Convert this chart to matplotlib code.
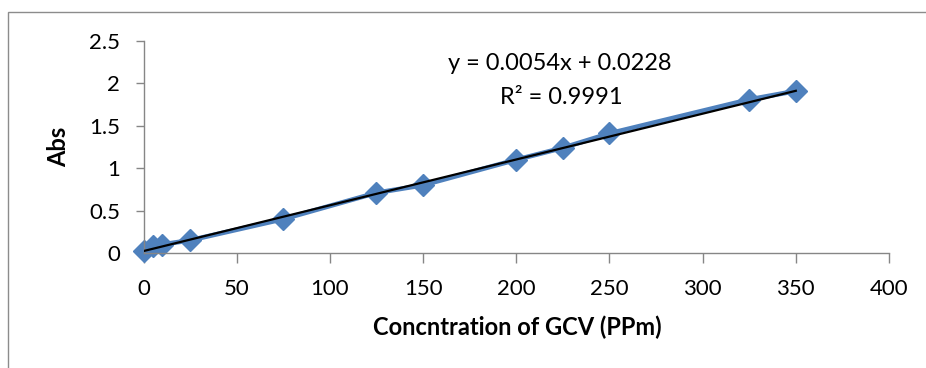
import matplotlib
matplotlib.use("Agg")
import matplotlib.pyplot as plt
from matplotlib.patches import Rectangle
import numpy as np

# Calibration data: concentration of GCV (ppm) vs absorbance
conc = [0, 5, 10, 25, 75, 125, 150, 200, 225, 250, 325, 350]
absorb = [0.02, 0.08, 0.10, 0.15, 0.40, 0.71, 0.80, 1.10, 1.24, 1.41, 1.81, 1.91]

slope = 0.0054
intercept = 0.0228
r2 = 0.9991

x_ticks = [0, 50, 100, 150, 200, 250, 300, 350, 400]
y_ticks = [0, 0.5, 1, 1.5, 2, 2.5]
y_tick_labels = ["0", "0.5", "1", "1.5", "2", "2.5"]

plt.rcParams["font.family"] = ["Lato", "DejaVu Sans"]

W, H = 926, 368
fig = plt.figure(figsize=(W / 100, H / 100), dpi=100)

# chart area frame
fig.patches.append(Rectangle((8 / W, -0.1), 1.2, 1 - 12 / H + 0.1,
                             transform=fig.transFigure, fill=False,
                             edgecolor="#8c8c8c", linewidth=1.0))

ax = fig.add_axes([143.5 / W, 1 - 253 / H, (889 - 143.5) / W, (253 - 41) / H])

ax.plot(conc, absorb, color="#4F81BD", linewidth=3.4, marker="D",
        markersize=11, markerfacecolor="#4F81BD", markeredgecolor="#4F81BD",
        zorder=2, clip_on=False)

fit_x = np.array([min(conc), max(conc)])
ax.plot(fit_x, slope * fit_x + intercept, color="black", linewidth=1.6, zorder=3)

ax.set_xlim(0, 400)
ax.set_ylim(0, 2.5)
ax.set_xticks(x_ticks)
ax.set_xticklabels([str(v) for v in x_ticks])
ax.set_yticks(y_ticks)
ax.set_yticklabels(y_tick_labels)

for side in ["top", "right"]:
    ax.spines[side].set_visible(False)
for side in ["left", "bottom"]:
    ax.spines[side].set_color("#868686")
    ax.spines[side].set_linewidth(1.0)

ax.tick_params(axis="x", direction="out", length=7, width=1.0, color="#868686",
               labelsize=16, pad=12, labelcolor="black")
ax.tick_params(axis="y", direction="out", length=6, width=1.0, color="#868686",
               labelsize=16, pad=11, labelcolor="black")

fig.text(517 / W, 1 - 327 / H, "Concntration of GCV (PPm)", fontsize=17,
         fontweight="bold", ha="center", va="center")
fig.text(59 / W, 1 - 147 / H, "Abs", fontsize=17, fontweight="bold",
         ha="center", va="center", rotation=90)

fig.text(560 / W, 1 - 63 / H, f"y = {slope}x + {intercept}",
         ha="center", va="center", fontsize=17)
fig.text(561 / W, 1 - 97 / H, f"R² = {r2}",
         ha="center", va="center", fontsize=17)

fig.savefig("out.png", dpi=100)
